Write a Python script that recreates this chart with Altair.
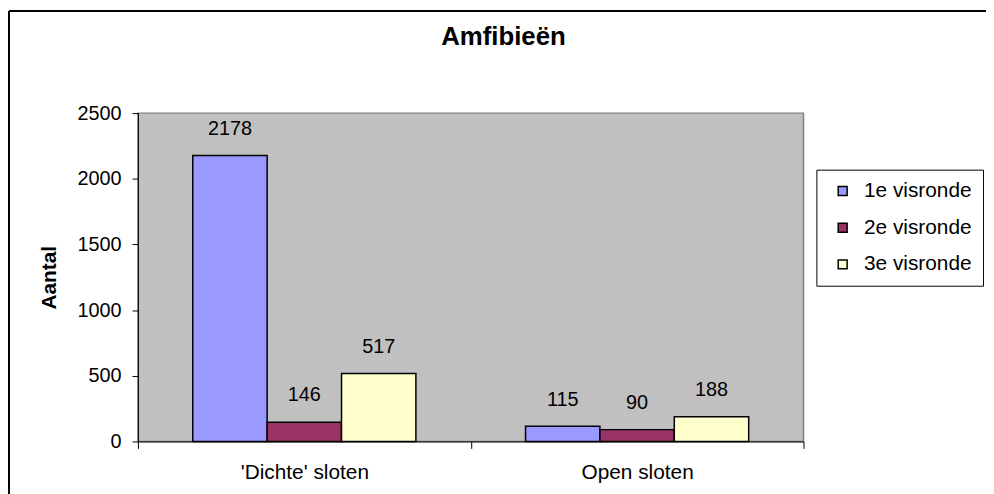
import altair as alt
import pandas as pd

categories = ["'Dichte' sloten", "Open sloten"]
series = ["1e visronde", "2e visronde", "3e visronde"]
dichte_values = [2178, 146, 517]
open_values = [115, 90, 188]
colors = ["#9999FF", "#993366", "#FFFFCC"]
y_ticks = [0, 500, 1000, 1500, 2000, 2500]

rows = []
for cat, vals in zip(categories, [dichte_values, open_values]):
    for s, v in zip(series, vals):
        rows.append({"categorie": cat, "reeks": s, "aantal": v})
df = pd.DataFrame(rows)

FONT = "Liberation Sans"

base = alt.Chart(df).encode(
    x=alt.X(
        "categorie:N",
        sort=categories,
        scale=alt.Scale(paddingInner=0, paddingOuter=0),
        axis=alt.Axis(
            title=None, labelAngle=0, labelFontSize=21, labelFont=FONT,
            labelColor="black", tickBand="extent", tickSize=7,
            labelPadding=13, domainColor="#000000", tickColor="#000000",
        ),
    ),
    xOffset=alt.XOffset(
        "reeks:N", sort=series,
        scale=alt.Scale(paddingInner=0, paddingOuter=0.737),
    ),
    y=alt.Y(
        "aantal:Q",
        scale=alt.Scale(domain=[0, 2500], nice=False),
        axis=alt.Axis(
            title="Aantal", values=y_ticks, format="d", grid=False, tickSize=6,
            labelPadding=11, labelFontSize=20, labelFont=FONT, labelColor="black",
            titleFontSize=21, titleFont=FONT, titleFontWeight="bold",
            titleColor="black", titlePadding=18,
            domainColor="#000000", tickColor="#000000",
        ),
    ),
)

bars = base.mark_bar(stroke="black", strokeWidth=1.5).encode(
    color=alt.Color(
        "reeks:N", sort=series,
        scale=alt.Scale(domain=series, range=colors),
        legend=alt.Legend(
            title=None, orient="none", legendX=684, legendY=57,
            strokeColor="#000000", fillColor="white", padding=11,
            symbolType="square", symbolSize=81, symbolStrokeColor="black",
            symbolStrokeWidth=1.5, symbolOffset=5, labelOffset=11,
            labelFontSize=21, labelFont=FONT, labelColor="black",
            rowPadding=15,
        ),
    )
)

labels = base.mark_text(
    dy=-21, baseline="alphabetic", fontSize=20, font=FONT, color="black"
).encode(text="aantal:Q")

frame_df = pd.DataFrame({"a": [0]})
frame_left = alt.Chart(frame_df).mark_rule(color="#000000", strokeWidth=2).encode(
    x=alt.value(-130), y=alt.value(-103), y2=alt.value(500)
)
frame_top = alt.Chart(frame_df).mark_rule(color="#000000", strokeWidth=2).encode(
    x=alt.value(-130), x2=alt.value(900), y=alt.value(-103)
)

chart = alt.layer(bars, labels, frame_left, frame_top).properties(
    width=671,
    height=331,
    autosize=alt.AutoSizeParams(type="none"),
    padding={"left": 131, "top": 104, "right": 184, "bottom": 51},
    background="white",
    title=alt.Title(
        "Amfibieën", fontSize=26, font=FONT, fontWeight="bold",
        color="black", anchor="middle", dx=33, offset=-40,
    ),
).configure_view(
    fill="#C0C0C0", stroke="#808080", strokeWidth=1.5
)

chart.save("out.html", embed_options={"renderer": "svg", "actions": False})
